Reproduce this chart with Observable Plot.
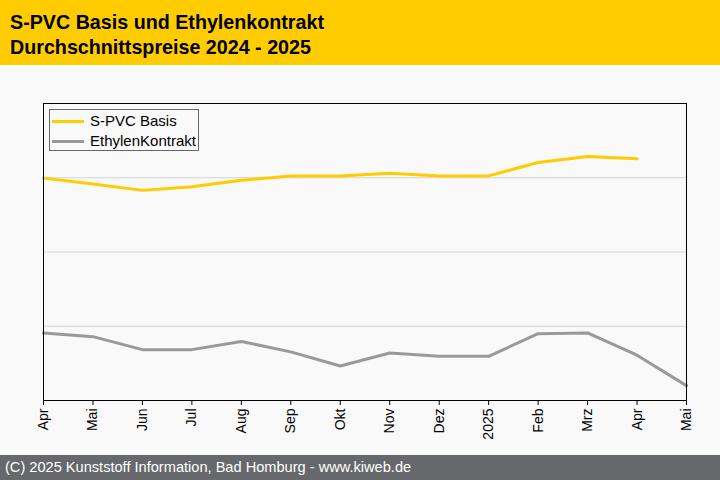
<!DOCTYPE html>
<html>
<head>
<meta charset="utf-8">
<script src="https://cdn.jsdelivr.net/npm/d3@7"></script>
<script src="https://cdn.jsdelivr.net/npm/@observablehq/plot@0.6"></script>
<style>
  html, body { margin: 0; padding: 0; }
  body { width: 720px; height: 480px; background: #f9f9f9; font-family: "Liberation Sans", Arial, sans-serif; position: relative; overflow: hidden; }
  #header { position: absolute; left: 0; top: 0; width: 720px; height: 65px; background: #ffcc00; box-sizing: border-box; padding: 10px 0 0 10px; font-weight: bold; font-size: 19.7px; line-height: 24.5px; color: #000; }
  #chart { position: absolute; left: 0; top: 65px; }
  #footer { position: absolute; left: 0; top: 455px; width: 720px; height: 25px; background: #67686c; color: #fff; font-size: 14.6px; line-height: 25px; box-sizing: border-box; padding: 0 0 0 5px; }
  #legend { position: absolute; left: 49px; top: 109px; width: 148px; height: 40px; border: 1px solid #666; box-sizing: content-box; font-size: 15px; color: #000; }
  .item { position: absolute; left: 0; height: 20px; line-height: 20px; }
  .sw { position: absolute; left: 2px; width: 32px; height: 3px; }
  .lab { position: absolute; left: 40px; white-space: nowrap; }
</style>
</head>
<body>
<div id="header">S-PVC Basis und Ethylenkontrakt<br>Durchschnittspreise 2024 - 2025</div>
<div id="chart"></div>
<div id="legend"></div>
<div id="footer">(C) 2025 Kunststoff Information, Bad Homburg - www.kiweb.de</div>
<script>
const months = ["Apr","Mai","Jun","Jul","Aug","Sep","Okt","Nov","Dez","2025","Feb","Mrz","Apr","Mai"];
const pvcBasis = [1199, 1183, 1166, 1176, 1193, 1205, 1205, 1212, 1205, 1205, 1241, 1257, 1251, null];
const ethylenKontrakt = [782, 772, 737, 737, 759, 731, 693, 728, 719, 719, 780, 782, 722, 640];
const yGrid = [800, 1000, 1200];
const seriesNames = ["S-PVC Basis", "EthylenKontrakt"];
const seriesColors = ["#ffcc00", "#999999"];

const data = months.map((m, i) => ({i, m, pvc: pvcBasis[i], eth: ethylenKontrakt[i]}));

const chart = Plot.plot({
  width: 720,
  height: 390,
  marginTop: 38,
  marginBottom: 55,
  marginLeft: 43,
  marginRight: 34,
  style: {background: "transparent", fontFamily: "'Liberation Sans', Arial, sans-serif", fontSize: "14px", color: "#000"},
  x: {domain: [0, months.length - 1]},
  y: {domain: [600, 1400], axis: null},
  marks: [
    Plot.gridY(yGrid, {stroke: "#d4d4d4", strokeOpacity: 1}),
    Plot.line(data.filter(d => d.pvc != null), {x: "i", y: "pvc", stroke: seriesColors[0], strokeWidth: 3, strokeLinejoin: "miter"}),
    Plot.line(data, {x: "i", y: "eth", stroke: seriesColors[1], strokeWidth: 3, strokeLinejoin: "miter"}),
    Plot.axisX(d3.range(months.length), {tickFormat: i => months[i], tickRotate: -90, tickSize: 5, tickPadding: 3, label: null, fontSize: 14}),
    Plot.frame({stroke: "#000", strokeWidth: 1})
  ]
});
document.getElementById("chart").appendChild(chart);

const legend = document.getElementById("legend");
seriesNames.forEach((name, k) => {
  const item = document.createElement("div");
  item.className = "item";
  item.style.top = (1 + k * 20) + "px";
  item.innerHTML = `<div class="sw" style="top:9px;background:${seriesColors[k]}"></div><div class="lab">${name}</div>`;
  legend.appendChild(item);
});
</script>
</body>
</html>
